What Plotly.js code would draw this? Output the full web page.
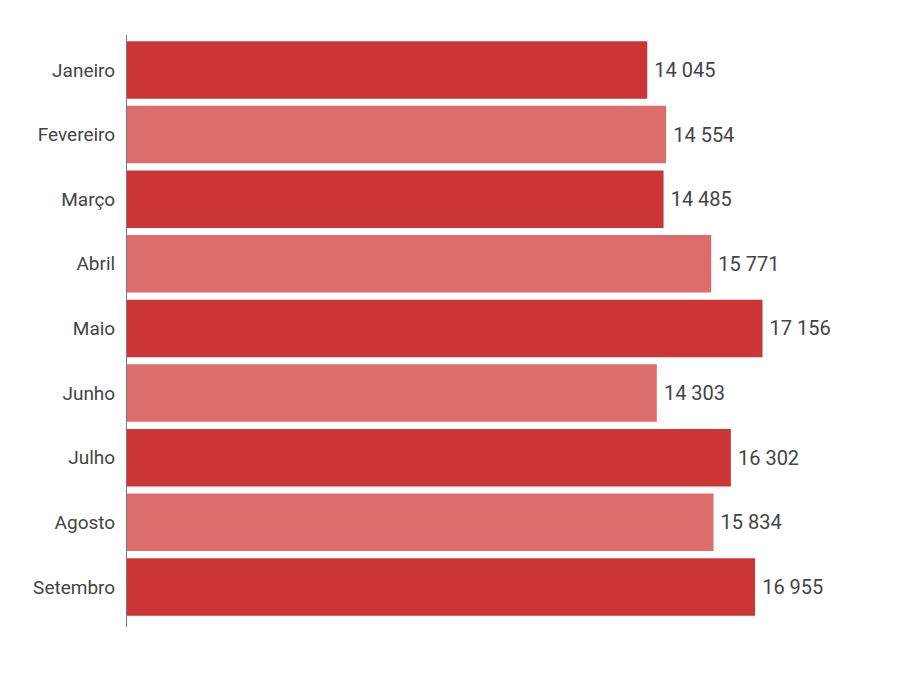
<!DOCTYPE html>
<html>
<head>
<meta charset="utf-8">
<script src="https://cdn.plot.ly/plotly-3.0.1.min.js"></script>
<style>
  html, body { margin: 0; padding: 0; background: #fff; }
  #chart { width: 902px; height: 694px; }
</style>
</head>
<body>
<div id="chart"></div>
<script>
var months = ["Janeiro", "Fevereiro", "Março", "Abril", "Maio", "Junho", "Julho", "Agosto", "Setembro"];
var values = [14045, 14554, 14485, 15771, 17156, 14303, 16302, 15834, 16955];

// alternating dark / light red
var barColors = months.map(function(m, i){
    return i % 2 == 0 ? '#cc3535' : '#dc6d6b';
});

var trace = {
    type: 'bar',
    orientation: 'h',
    x: values,
    y: months,
    marker: {color: barColors},
    text: values,
    texttemplate: '\u2009%{x:,}',
    textposition: 'outside',
    textfont: {family: 'Roboto', size: 20, color: '#444'},
    cliponaxis: false,
    hoverinfo: 'none'
};

var layout = {
    width: 902,
    height: 694,
    margin: {l: 127, r: 36, t: 35, b: 67},
    paper_bgcolor: '#fff',
    plot_bgcolor: '#fff',
    separators: ', ',
    bargap: 0.11,
    showlegend: false,
    font: {family: 'Roboto', color: '#444'},
    xaxis: {
        range: [0, 19950],
        showgrid: false,
        zeroline: false,
        showticklabels: false,
        showline: false
    },
    yaxis: {
        type: 'category',
        categoryorder: 'array',
        categoryarray: months,
        range: [8.62, -0.54],
        showgrid: false,
        zeroline: false,
        showline: true,
        linecolor: '#777',
        linewidth: 1,
        ticks: 'outside',
        ticklen: 7,
        tickcolor: 'rgba(0,0,0,0)',
        tickfont: {family: 'Roboto', size: 19, color: '#444'}
    }
};

Plotly.newPlot('chart', [trace], layout, {displayModeBar: false, staticPlot: true});
</script>
</body>
</html>
